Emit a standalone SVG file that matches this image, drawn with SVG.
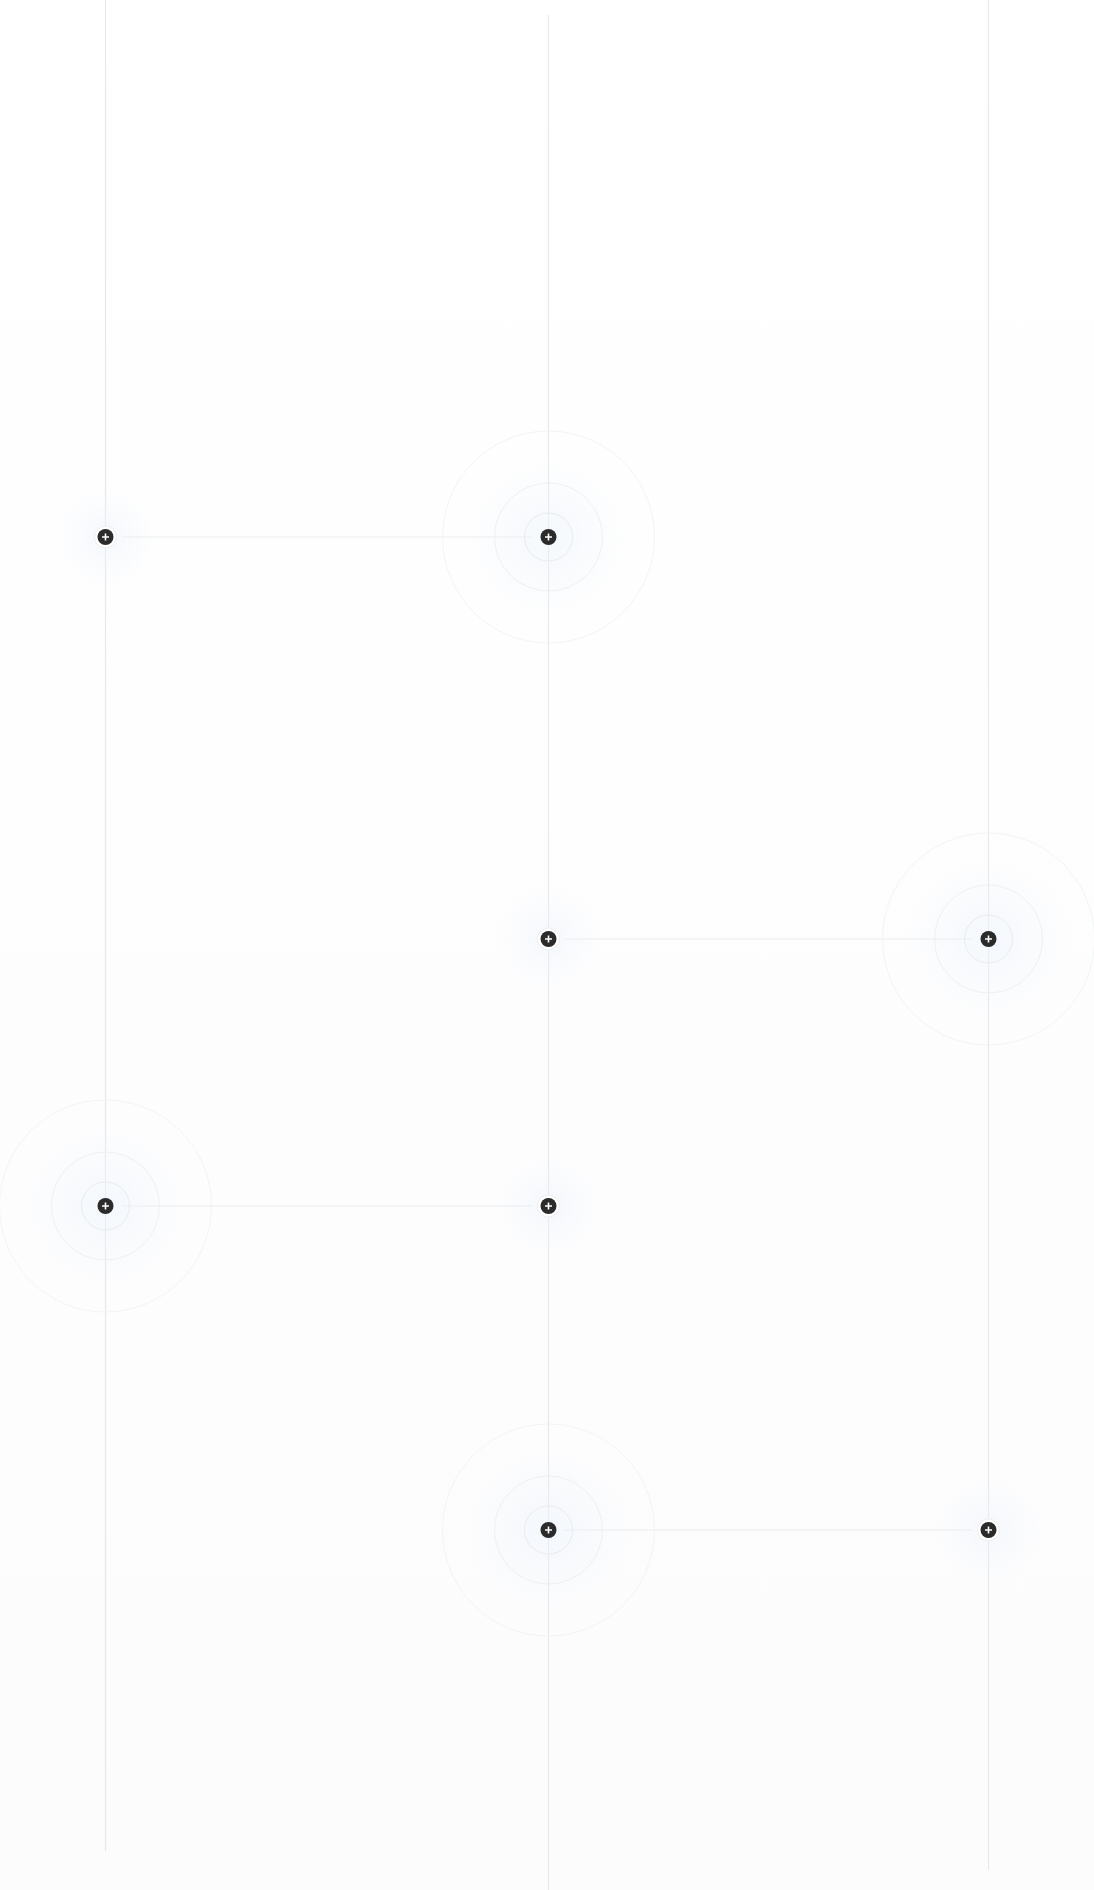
<svg xmlns="http://www.w3.org/2000/svg" width="1094" height="1890" viewBox="0 0 1094 1890">
<defs>
<linearGradient id="bg" x1="0" y1="0" x2="0" y2="1">
<stop offset="0" stop-color="#ffffff"/>
<stop offset="1" stop-color="#fcfcfd"/>
</linearGradient>
<radialGradient id="glow">
<stop offset="0" stop-color="#eef4fb" stop-opacity="0.6"/>
<stop offset="1" stop-color="#eef4fb" stop-opacity="0"/>
</radialGradient>
<g id="dot">
<circle r="8" fill="#2b2b2b"/>
<path d="M-3.5 0H3.5M0 -3.5V3.5" stroke="#ffffff" stroke-width="1.6"/>
</g>
</defs>
<style>
.rail{stroke:#e6e8ec;stroke-width:1.2;fill:none}
.link{stroke:#e8ebee;stroke-width:1.2;fill:none}
.r1{fill:none;stroke:#e9ebee;stroke-width:1}
.r2{fill:none;stroke:#eef0f2;stroke-width:1}
.r3{fill:none;stroke:#f3f4f5;stroke-width:1}
.halo{fill:#ffffff;stroke:#eceef1;stroke-width:1}
</style>
<rect width="1094" height="1890" fill="url(#bg)"/>
<g id="connectors">
<line class="rail" x1="105.5" y1="0" x2="105.5" y2="1851"/>
<line class="rail" x1="548.5" y1="15" x2="548.5" y2="1890"/>
<line class="rail" x1="988.5" y1="0" x2="988.5" y2="1870"/>
<line class="link" x1="122" y1="537" x2="532" y2="537"/>
<line class="link" x1="565" y1="939" x2="972" y2="939"/>
<line class="link" x1="122" y1="1206" x2="532" y2="1206"/>
<line class="link" x1="564" y1="1530" x2="972" y2="1530"/>
</g>
<g id="n1" transform="translate(105.5 537)">
<circle r="50" fill="url(#glow)"/>
<circle r="11" class="halo"/>
<use href="#dot"/>
</g>
<g id="n2" transform="translate(548.5 537)">
<circle r="80" fill="url(#glow)"/>
<circle r="106" class="r3"/>
<circle r="54" class="r2"/>
<circle r="24" class="r1"/>
<use href="#dot"/>
</g>
<g id="n3" transform="translate(548.5 939)">
<circle r="50" fill="url(#glow)"/>
<circle r="11" class="halo"/>
<use href="#dot"/>
</g>
<g id="n4" transform="translate(988.5 939)">
<circle r="80" fill="url(#glow)"/>
<circle r="106" class="r3"/>
<circle r="54" class="r2"/>
<circle r="24" class="r1"/>
<use href="#dot"/>
</g>
<g id="n5" transform="translate(105.5 1206)">
<circle r="80" fill="url(#glow)"/>
<circle r="106" class="r3"/>
<circle r="54" class="r2"/>
<circle r="24" class="r1"/>
<use href="#dot"/>
</g>
<g id="n6" transform="translate(548.5 1206)">
<circle r="50" fill="url(#glow)"/>
<circle r="11" class="halo"/>
<use href="#dot"/>
</g>
<g id="n7" transform="translate(548.5 1530)">
<circle r="80" fill="url(#glow)"/>
<circle r="106" class="r3"/>
<circle r="54" class="r2"/>
<circle r="24" class="r1"/>
<use href="#dot"/>
</g>
<g id="n8" transform="translate(988.5 1530)">
<circle r="50" fill="url(#glow)"/>
<circle r="11" class="halo"/>
<use href="#dot"/>
</g>
</svg>
